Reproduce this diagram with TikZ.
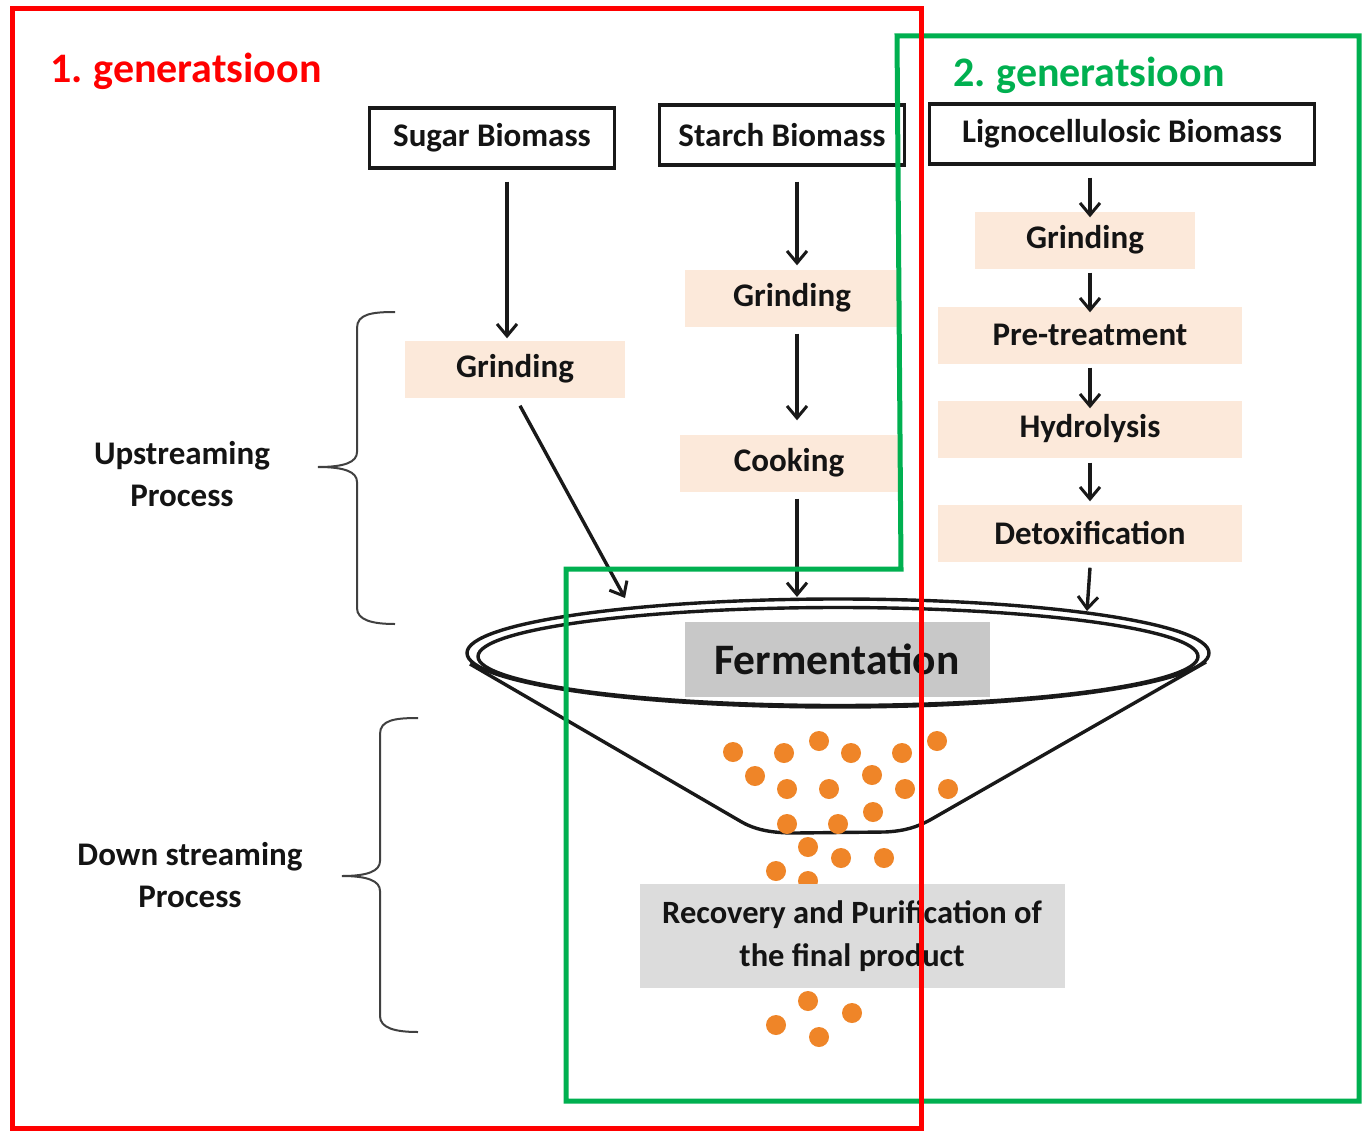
\documentclass[tikz,border=0pt]{standalone}
\usepackage{fontspec}
\setmainfont{Carlito}
\usetikzlibrary{arrows.meta}
\definecolor{gen1}{HTML}{FF0000}
\definecolor{gen2}{HTML}{00B050}
\definecolor{peach}{HTML}{FCE9DA}
\definecolor{fermgray}{HTML}{C8C8C8}
\definecolor{recgray}{HTML}{DCDCDC}
\definecolor{dotorange}{HTML}{EF8528}
\begin{document}
\begin{tikzpicture}[x=1pt,y=-1pt,
  lbl/.style={font=\bfseries\fontsize{33}{42}\selectfont, text=black!92},
  biobox/.style={lbl, draw=black!90, line width=3.2pt, minimum height=60pt, inner sep=0pt},
  stepbox/.style={lbl, fill=peach, minimum height=57pt, inner sep=0pt},
  gentitle/.style={font=\bfseries\fontsize{42}{48}\selectfont, inner sep=0pt},
  arr/.style={-{Straight Barb[length=12pt,width=20pt,line width=3pt]}, line width=3.4pt, draw=black!90},
  brace/.style={line width=2pt, draw=black!75},
  funnel/.style={line width=3.4pt, draw=black!90},
  orb/.style={fill=dotorange}
]
\useasboundingbox (0,0) rectangle (1365,1132);
\fill[white] (0,0) rectangle (1365,1132);

% generation titles
\node[gentitle, text=gen1] (g1) at (186,71) {1.\kern-2pt{} generatsioon};
\node[gentitle, text=gen2] (g2) at (1089,75) {2.\kern-2pt{} generatsioon};

% feedstocks
\node[biobox, minimum width=245pt] (sugar) at (492,138) {Sugar Biomass};
\node[biobox, minimum width=245pt] (starch) at (782,135) {Starch Biomass};
\node[biobox, minimum width=385pt] (ligno) at (1122,134) {\raisebox{-2pt}{Lignocellulosic Biomass}};

% process steps
\node[stepbox, minimum width=220pt] (sgrind) at (515,369) {Grinding};
\node[stepbox, minimum width=215pt] (stgrind) at (792,298) {Grinding};
\node[stepbox, minimum width=218pt] (cook) at (789,463) {Cooking};
\node[stepbox, minimum width=220pt] (lgrind) at (1085,240) {Grinding};
\node[stepbox, minimum width=304pt] (pretreat) at (1090,335) {Pre-treatment};
\node[stepbox, minimum width=304pt] (hydro) at (1090,429) {Hydrolysis};
\node[stepbox, minimum width=304pt] (detox) at (1090,533) {Detoxification};

% side labels and braces
\node[lbl, align=center] (up) at (182,474) {Upstreaming\\Process};
\node[lbl, align=center] (down) at (190,875) {Down streaming\\Process};
\draw[brace] (395,312) .. controls (372,312) and (357,314) .. (357,328) -- (357,452)
  .. controls (357,462) and (345,467) .. (318,467)
  .. controls (345,467) and (357,472) .. (357,482) -- (357,608)
  .. controls (357,620) and (372,624) .. (395,624);
\draw[brace] (418,718) .. controls (395,718) and (380,720) .. (380,734) -- (380,861)
  .. controls (380,871) and (368,876) .. (342,876)
  .. controls (368,876) and (380,881) .. (380,891) -- (380,1016)
  .. controls (380,1028) and (395,1032) .. (418,1032);

% funnel
\draw[funnel, line join=round] (470,664) -- (740,821) .. controls (755,830) and (772,833) .. (795,833)
  -- (885,832) .. controls (905,831) and (917,827) .. (930,820) -- (1206,662);
\draw[funnel] (838,653) ellipse [x radius=371, y radius=54];
\draw[funnel] (838,656.5) ellipse [x radius=360, y radius=49];
\node[fill=fermgray, minimum width=305pt, minimum height=75pt, inner sep=0pt,
  font=\bfseries\fontsize{43.5}{48}\selectfont, text=black!92] (ferm) at (837,659) {Fermentation};

% product particles
\foreach \px/\py in {733/752, 784/753, 819/741, 851/753, 902/753, 937/741,
  755/776, 787/789, 829/789, 872/775, 905/789, 948/789,
  787/824, 838/824, 873/812,
  808/847, 841/858, 884/858, 776/871, 808/881,
  808/1001, 852/1013, 776/1025, 819/1037}
  \fill[orb] (\px,\py) circle [radius=10pt];

\node[lbl, fill=recgray, minimum width=425pt, minimum height=104pt, inner sep=0pt, align=center,
  font=\bfseries\fontsize{32.5}{43}\selectfont] (recov) at (852,936)
  {Recovery and Purification of\\the final product};

% connectors
\coordinate (fin1) at (625,598);
\coordinate (fin2) at (797,597);
\coordinate (fin3) at (1087,611);
\draw[arr] ([xshift=15pt,yshift=-12pt]sugar.south) -- ([xshift=-8pt,yshift=2pt]sgrind.north);
\draw[arr] ([xshift=5pt,yshift=-8pt]sgrind.south) -- (fin1);
\draw[arr] ([xshift=15pt,yshift=-15pt]starch.south) -- ([xshift=5pt,yshift=4pt]stgrind.north);
\draw[arr] ([xshift=5pt,yshift=-7pt]stgrind.south) -- ([xshift=8pt,yshift=14pt]cook.north);
\draw[arr] ([xshift=8pt,yshift=-7pt]cook.south) -- (fin2);
\draw[arr] ([xshift=-32pt,yshift=-12pt]ligno.south) -- ([xshift=5pt,yshift=-6pt]lgrind.north);
\draw[arr] ([xshift=5pt,yshift=-4pt]lgrind.south) -- ([yshift=-6pt]pretreat.north);
\draw[arr] ([yshift=-4pt]pretreat.south) -- ([yshift=-8pt]hydro.north);
\draw[arr] ([yshift=-5pt]hydro.south) -- ([yshift=3pt]detox.north);
\draw[arr] ([yshift=-6pt]detox.south) -- (fin3);

% generation frames
\draw[gen2, line width=5pt, line join=miter] (897,36) -- (1359,36) -- (1359,1101) -- (566,1101)
  -- (566,569) -- (901,569) -- cycle;
\draw[gen1, line width=5pt] (12,9) rectangle (921,1128);
\end{tikzpicture}
\end{document}
